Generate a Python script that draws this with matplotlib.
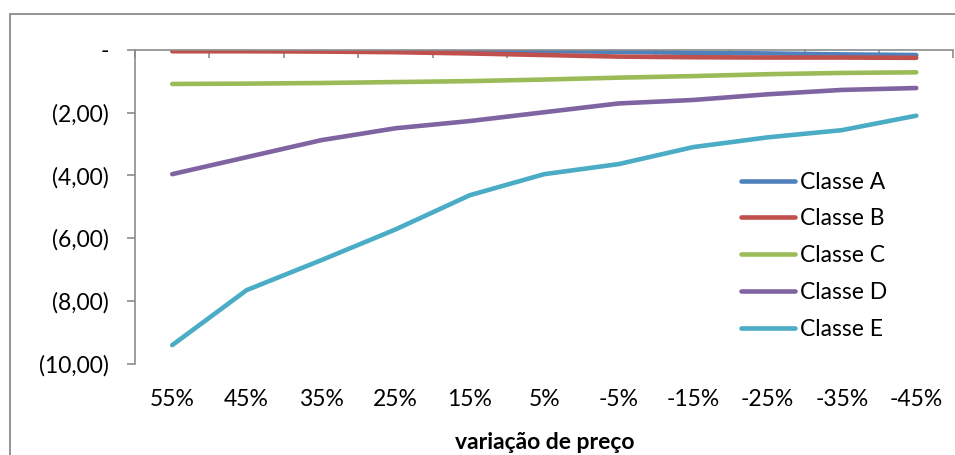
import matplotlib
matplotlib.use("Agg")
import matplotlib.pyplot as plt
from matplotlib.patches import Rectangle

categories = ["55%", "45%", "35%", "25%", "15%", "5%", "-5%", "-15%", "-25%", "-35%", "-45%"]
classe_a = [0.00, 0.00, 0.00, -0.01, -0.02, -0.04, -0.07, -0.10, -0.12, -0.15, -0.17]
classe_b = [-0.05, -0.05, -0.06, -0.08, -0.12, -0.17, -0.22, -0.24, -0.25, -0.25, -0.26]
classe_c = [-1.09, -1.08, -1.06, -1.03, -1.00, -0.95, -0.89, -0.84, -0.78, -0.74, -0.72]
classe_d = [-3.96, -3.42, -2.88, -2.50, -2.27, -1.99, -1.71, -1.60, -1.42, -1.28, -1.22]
classe_e = [-9.40, -7.65, -6.70, -5.72, -4.63, -3.96, -3.64, -3.10, -2.79, -2.56, -2.10]
series_names = ["Classe A", "Classe B", "Classe C", "Classe D", "Classe E"]
y_ticks = [0, -2, -4, -6, -8, -10]
y_tick_labels = ["-", "(2,00)", "(4,00)", "(6,00)", "(8,00)", "(10,00)"]

colors = ["#4F81BD", "#C0504D", "#9BBB59", "#8064A2", "#4BACC6"]
plt.rcParams["font.family"] = ["Lato", "DejaVu Sans"]
FS = 16.5

fig = plt.figure(figsize=(9.55, 4.55), dpi=100)
ax = fig.add_axes([0.1414, 0.2, 0.857, 0.6908])

x = list(range(len(categories)))
for vals, name, col in zip([classe_a, classe_b, classe_c, classe_d, classe_e], series_names, colors):
    ax.plot(x, vals, color=col, lw=3.3, solid_capstyle="round", label=name)

ax.set_xlim(-0.5, len(categories) - 0.5)
ax.set_ylim(-10, 0)

grey = "#8c8c8c"
for s in ["right", "bottom"]:
    ax.spines[s].set_visible(False)
for s in ["left", "top"]:
    ax.spines[s].set_color(grey)
    ax.spines[s].set_linewidth(1.2)

ax.set_yticks(y_ticks)
ax.set_yticklabels(y_tick_labels)
ax.tick_params(axis="y", direction="out", length=6, color=grey, width=1.2,
               labelsize=FS, pad=13)

# category boundaries as tick marks on the axis line at zero
ax.set_xticks([i - 0.5 for i in range(len(categories) + 1)])
ax.set_xticklabels([])
ax.tick_params(axis="x", which="major", top=True, bottom=False, direction="in",
               length=6, color=grey, width=1.2, labeltop=False, labelbottom=False)
ax.set_xticks(x, minor=True)
ax.set_xticklabels(categories, minor=True)
ax.tick_params(axis="x", which="minor", bottom=True, top=False, length=0,
               labelsize=FS, pad=18, labelbottom=True)

ax.set_xlabel("variação de preço", fontsize=FS, fontweight="bold", labelpad=16)

leg = ax.legend(loc="upper left", bbox_to_anchor=(0.74, 0.612), frameon=False,
                fontsize=FS, handlelength=2.36, handletextpad=0.22,
                labelspacing=0.69, borderaxespad=0, borderpad=0)

fig.patches.append(Rectangle((10 / 955, -0.05), 1.2, 1 - 14 / 455 + 0.05,
                             transform=fig.transFigure, fill=False,
                             edgecolor=grey, lw=1.3))

fig.savefig("out.png", dpi=100)
